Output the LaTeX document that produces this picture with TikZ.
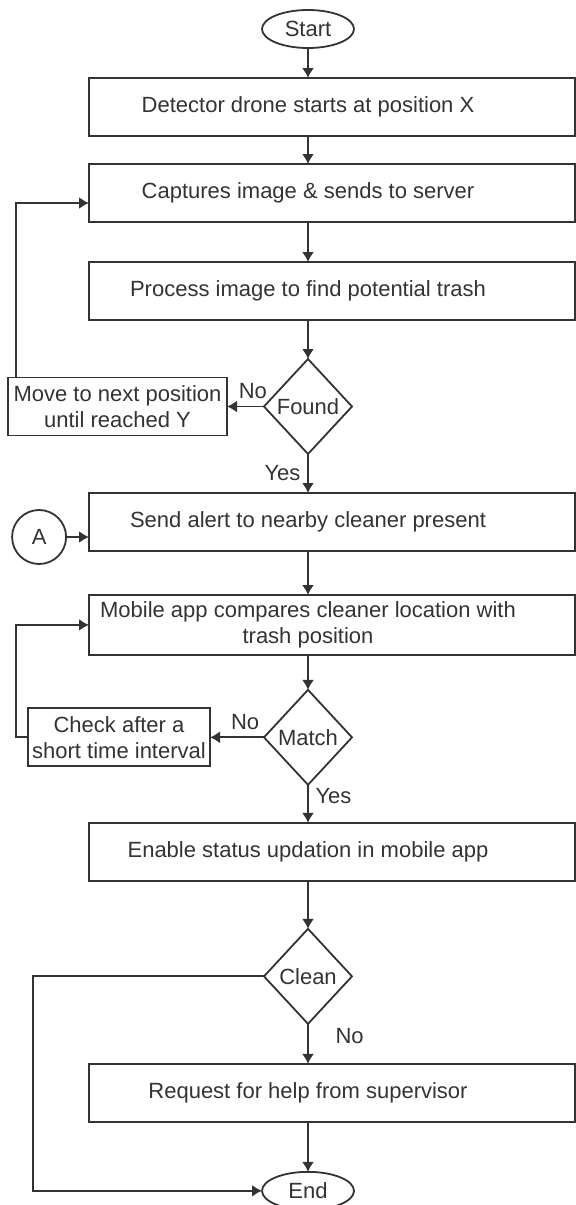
\documentclass[tikz,border=0pt]{standalone}
\usepackage{fontspec}
\setmainfont{Liberation Sans}
\usetikzlibrary{shapes, arrows, arrows.meta, positioning}

\begin{document}
\begin{tikzpicture}[auto, >={Latex[length=5pt, width=6pt]}, line width=0.9pt, color=black!80,
	font=\fontsize{11pt}{13pt}\selectfont,
	box/.style={rectangle, minimum width=219pt, minimum height=29pt, outer sep=0pt, align=center},
	side/.style={draw, rectangle, minimum height=29pt, inner sep=1pt, outer sep=0pt, align=center},
	dec/.style={draw, diamond, minimum width=44pt, minimum height=47.5pt, inner sep=0pt, outer sep=0pt},
	term/.style={draw, ellipse, minimum width=46pt, minimum height=19pt, inner sep=0pt, outer sep=0pt}]
		\useasboundingbox (0,0) rectangle (288pt,-602.5pt);
		\node [term] at (154pt,-14.5pt) (start) {Start};
		\node [box, below= 15pt of start] (detect) {Detector drone starts at position X};
		\node [box, below= 14pt of detect] (capture) {Captures image \& sends to server};
		\node [box, below= 20pt of capture] (process) {Process image to find potential trash};
		\node [dec, below= 19.5pt of process] (found) {Found};
		\node [side, left= 18.5pt of found, minimum width=109.5pt] (move) {Move to next position\\until reached Y};
		\node [box, below= 19.5pt of found] (alert) {Send alert to nearby cleaner present};
		\node [draw, circle, left= 11pt of alert, yshift=-7.5pt, minimum size=27pt, inner sep=0pt] (conA) {A};
		\node [box, below= 22pt of alert] (compare) {Mobile app compares cleaner location with\\trash position};
		\node [dec, below= 17.5pt of compare] (match) {Match};
		\node [side, left= 27pt of match, minimum width=91pt] (check) {Check after a\\short time interval};
		\node [box, below= 19pt of match] (enable) {Enable status updation in mobile app};
		\node [dec, below= 24pt of enable] (clean) {Clean};
		\node [box, below= 20pt of clean] (request) {Request for help from supervisor};
		\node [term, below= 25pt of request] (end) {End};

		% process boxes reach the right edge
		\foreach \b in {detect, capture, process, alert, compare, enable, request}
			\draw (\b.south west) rectangle ([xshift=24pt]\b.north east);

		\draw [->] (start) -- (detect);
		\draw [->] (detect) -- (capture);
		\draw [->] (capture) -- (process);
		\draw [->] (process) -- (found);
		\draw [->] (found) -- node[above, pos=0.3] {No} (move);
		\draw [->] ([xshift=4pt]move.north west) |- ([yshift=-5pt]capture.west);
		\draw [->] (found) -- node[left, pos=0.5] {Yes} (alert);
		\draw [->] (conA) -- (conA -| alert.west);
		\draw [->] (alert) -- (compare);
		\draw [->] (compare) -- (match);
		\draw [->] (match) -- node[above, pos=0.35] {No} (check);
		\draw [->] (check.west) -- ++ (-6pt,0) |- (compare.west);
		\draw [->] (match) -- node[right, pos=0.3] {Yes} (enable);
		\draw [->] (enable) -- (clean);
		\draw [->] (clean) -- node[right=10pt, pos=0.3] {No} (request);
		\draw [->] (clean.west) -- ++ (-115.5pt,0) |- (end.west);
		\draw [->] (request) -- (end);
	\end{tikzpicture}
\end{document}
